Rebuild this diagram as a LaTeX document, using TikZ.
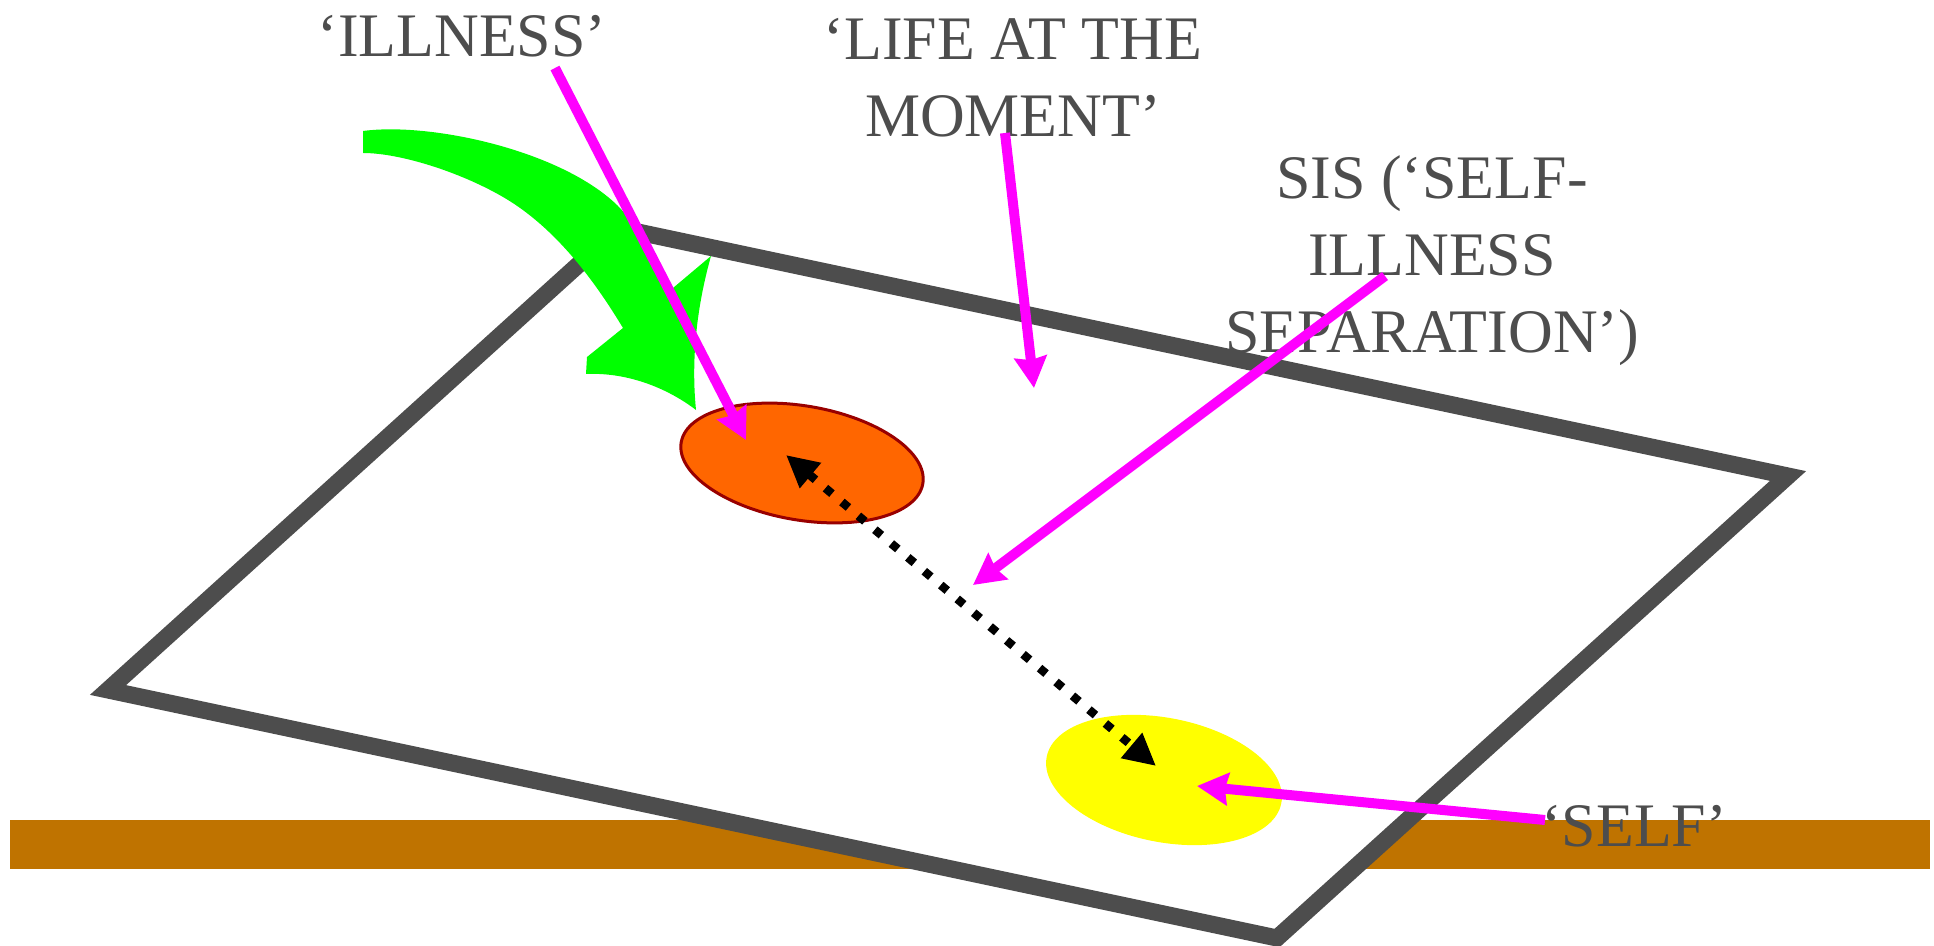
\documentclass[tikz,border=0pt]{standalone}
\usepackage{fontspec}
\setmainfont{Liberation Serif}
\usetikzlibrary{arrows.meta, positioning, shapes.geometric}

\definecolor{rimgray}{HTML}{4D4D4D}
\definecolor{barbrown}{RGB}{191,115,0}
\definecolor{illorange}{HTML}{FF6600}
\definecolor{illedge}{HTML}{990000}
\definecolor{pinkarr}{HTML}{FF00FF}
\definecolor{swoosh}{HTML}{00FF00}
\definecolor{selfyellow}{HTML}{FFFF00}

\begin{document}
\begin{tikzpicture}[
  x=0.01cm, y=-0.01cm,
  lab/.style={text=rimgray, font=\fontsize{17.6pt}{21.9pt}\selectfont,
              align=center, inner sep=0pt},
  blob/.style={ellipse, inner sep=0pt},
  pointer/.style={draw=pinkarr, line width=0.1cm,
                  -{Stealth[length=0.31cm, width=0.32cm, inset=0.03cm]}},
  gap/.style={draw=black, line width=0.085cm, dash pattern=on 0.085cm off 0.13cm,
              {Triangle[length=0.32cm, width=0.31cm]}-{Triangle[length=0.32cm, width=0.31cm]}}
]
\useasboundingbox (0,0) rectangle (1934,946);
% ground
\fill[barbrown] (10,820) rectangle (1930,869);
% plane
\draw[rimgray, fill=white, line width=0.17cm, line join=miter]
  (108,690) -- (619,228) -- (1788,476) -- (1277,938) -- cycle;
% green swoosh
\fill[swoosh] (363,131) .. controls (430,122) and (560,150) .. (617,205)
  .. controls (640,228) and (660,265) .. (673,288) -- (711,256)
  .. controls (700,295) and (690,350) .. (696,410)
  .. controls (670,390) and (630,372) .. (586,374) -- (587,357) -- (623,328)
  .. controls (600,290) and (560,230) .. (503,197)
  .. controls (460,172) and (400,153) .. (363,153) -- cycle;
% the two blobs
\node[blob, fill=illorange, draw=illedge, line width=0.03cm,
      minimum width=2.45cm, minimum height=1.14cm, rotate=-9.7] (illness) at (802,463) {};
\node[blob, fill=selfyellow, minimum width=2.39cm, minimum height=1.24cm,
      rotate=-11.2] (self) at (1164,780) {};
% labels (base = last line)
\node[lab, anchor=base] (illlab) at (462,57) {‘ILLNESS’};
\node[lab, anchor=base] (lifelab) at (1013,137) {‘LIFE AT THE\\MOMENT’};
\node[lab, anchor=base] (sislab) at (1432,353) {SIS (‘SELF-\\ILLNESS\\SEPARATION’)};
\node[lab, anchor=base] (selflab) at (1634,846) {‘SELF’};
% arrow ends
\coordinate (illfrom) at (555,68);    \coordinate (illto) at (746,440);
\coordinate (lifefrom) at (1005,133); \coordinate (lifeto) at (1034,388);
\coordinate (sisfrom) at (1385,276);  \coordinate (sisto) at (973,585);
\coordinate (selffrom) at (1545,820); \coordinate (selfto) at (1197,786);
\coordinate (gapA) at (786,455);      \coordinate (gapB) at (1156,766);
\draw[gap] (gapA) -- (gapB);
\draw[pointer] (illfrom) -- (illto);
\draw[pointer] (lifefrom) -- (lifeto);
\draw[pointer] (sisfrom) -- (sisto);
\draw[pointer] (selffrom) -- (selfto);
\end{tikzpicture}
\end{document}
